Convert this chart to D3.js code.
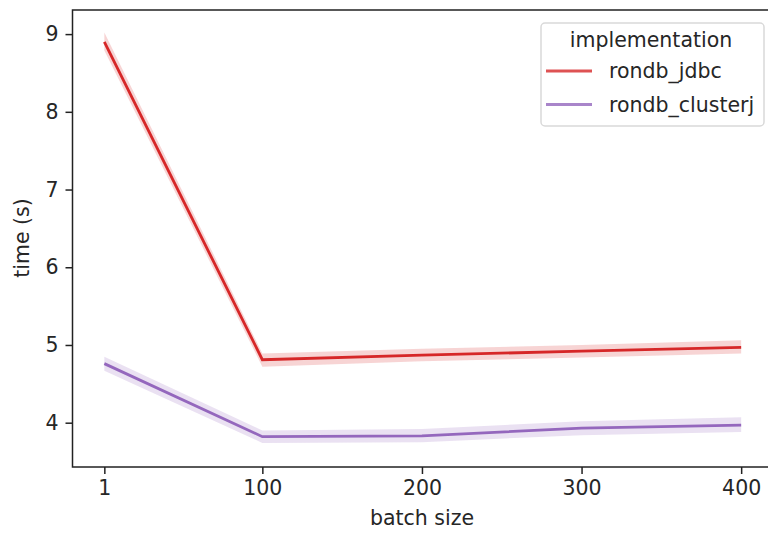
<!DOCTYPE html>
<html lang="en">
<head>
<meta charset="UTF-8">
<title>time vs batch size</title>
<style>
  body { margin: 0; background: #fff; overflow: hidden; }
  svg { display: block; font-family: "DejaVu Sans", sans-serif; }
</style>
</head>
<body>
<div id="chart"></div>
<script src="https://cdn.jsdelivr.net/npm/d3@7/dist/d3.min.js"></script>
<script>
// data
const batchSizes = [1, 100, 200, 300, 400];
const seriesNames = ['rondb_jdbc', 'rondb_clusterj'];
const jdbcMean = [8.90, 4.81, 4.87, 4.92, 4.97];
const jdbcLow = [8.79, 4.72, 4.79, 4.84, 4.89];
const jdbcHigh = [9.02, 4.89, 4.95, 5.00, 5.06];
const clusterjMean = [4.76, 3.82, 3.83, 3.93, 3.97];
const clusterjLow = [4.67, 3.74, 3.75, 3.84, 3.88];
const clusterjHigh = [4.85, 3.90, 3.92, 4.02, 4.07];
const yTicks = [4, 5, 6, 7, 8, 9];
const colors = ['#d62728', '#9467bd'];

const W = 768, H = 534;
const frame = { left: 72.5, right: 773, top: 10, bottom: 467 };
const fontSize = '20.5px';

const svg = d3.select('#chart').append('svg')
    .attr('width', W)
    .attr('height', H);

const x = d3.scaleLinear()
    .domain([-18.95, 419.95])
    .range([frame.left, frame.right]);

const y = d3.scaleLinear()
    .domain([3.43, 9.31])
    .range([frame.bottom, frame.top]);

const series = [
    { name: seriesNames[0], mean: jdbcMean, low: jdbcLow, high: jdbcHigh, color: colors[0] },
    { name: seriesNames[1], mean: clusterjMean, low: clusterjLow, high: clusterjHigh, color: colors[1] }
];

const area = d3.area()
    .x(d => x(d.x))
    .y0(d => y(d.lo))
    .y1(d => y(d.hi));

const line = d3.line()
    .x(d => x(d.x))
    .y(d => y(d.v));

series.forEach(s => {
    const pts = batchSizes.map((b, i) => ({ x: b, v: s.mean[i], lo: s.low[i], hi: s.high[i] }));
    svg.append('path')
        .datum(pts)
        .attr('fill', s.color)
        .attr('fill-opacity', 0.2)
        .attr('d', area);
    svg.append('path')
        .datum(pts)
        .attr('fill', 'none')
        .attr('stroke', s.color)
        .attr('stroke-width', 2.8)
        .attr('d', line);
});

// axes
const xAxis = svg.append('g')
    .attr('transform', `translate(0,${frame.bottom})`)
    .call(d3.axisBottom(x).tickValues(batchSizes).tickSize(7).tickPadding(6));
const yAxis = svg.append('g')
    .attr('transform', `translate(${frame.left},0)`)
    .call(d3.axisLeft(y).tickValues(yTicks).tickFormat(d3.format('d')).tickSize(7).tickPadding(7));

[xAxis, yAxis].forEach(a => {
    a.select('.domain').remove();
    a.selectAll('line').attr('stroke', '#222').attr('stroke-width', 1.5);
    a.selectAll('text')
        .attr('fill', '#262626')
        .style('font-size', fontSize)
        .style('font-family', '"DejaVu Sans", sans-serif');
});

// frame
svg.append('rect')
    .attr('x', frame.left)
    .attr('y', frame.top)
    .attr('width', frame.right - frame.left)
    .attr('height', frame.bottom - frame.top)
    .attr('fill', 'none')
    .attr('stroke', '#222')
    .attr('stroke-width', 1.5);

// axis titles
svg.append('text')
    .attr('x', 422)
    .attr('y', 525)
    .attr('text-anchor', 'middle')
    .attr('fill', '#262626')
    .style('font-size', fontSize)
    .text('batch size');

svg.append('text')
    .attr('transform', 'translate(29,238) rotate(-90)')
    .attr('text-anchor', 'middle')
    .attr('fill', '#262626')
    .style('font-size', fontSize)
    .text('time (s)');

// legend
const legend = svg.append('g').attr('transform', 'translate(541,23)');
legend.append('rect')
    .attr('width', 223)
    .attr('height', 103)
    .attr('rx', 4)
    .attr('fill', 'rgba(255,255,255,0.8)')
    .attr('stroke', '#d9d9d9')
    .attr('stroke-width', 1.5);
legend.append('text')
    .attr('x', 110)
    .attr('y', 24)
    .attr('text-anchor', 'middle')
    .attr('fill', '#262626')
    .style('font-size', fontSize)
    .text('implementation');
series.forEach((s, i) => {
    const yy = 48 + i * 33.5;
    legend.append('line')
        .attr('x1', 5).attr('x2', 51)
        .attr('y1', yy).attr('y2', yy)
        .attr('stroke', s.color)
        .attr('stroke-opacity', 0.8)
        .attr('stroke-width', 2.8);
    legend.append('text')
        .attr('x', 68)
        .attr('y', yy + 7)
        .attr('fill', '#262626')
        .style('font-size', fontSize)
        .text(s.name);
});
</script>
</body>
</html>
